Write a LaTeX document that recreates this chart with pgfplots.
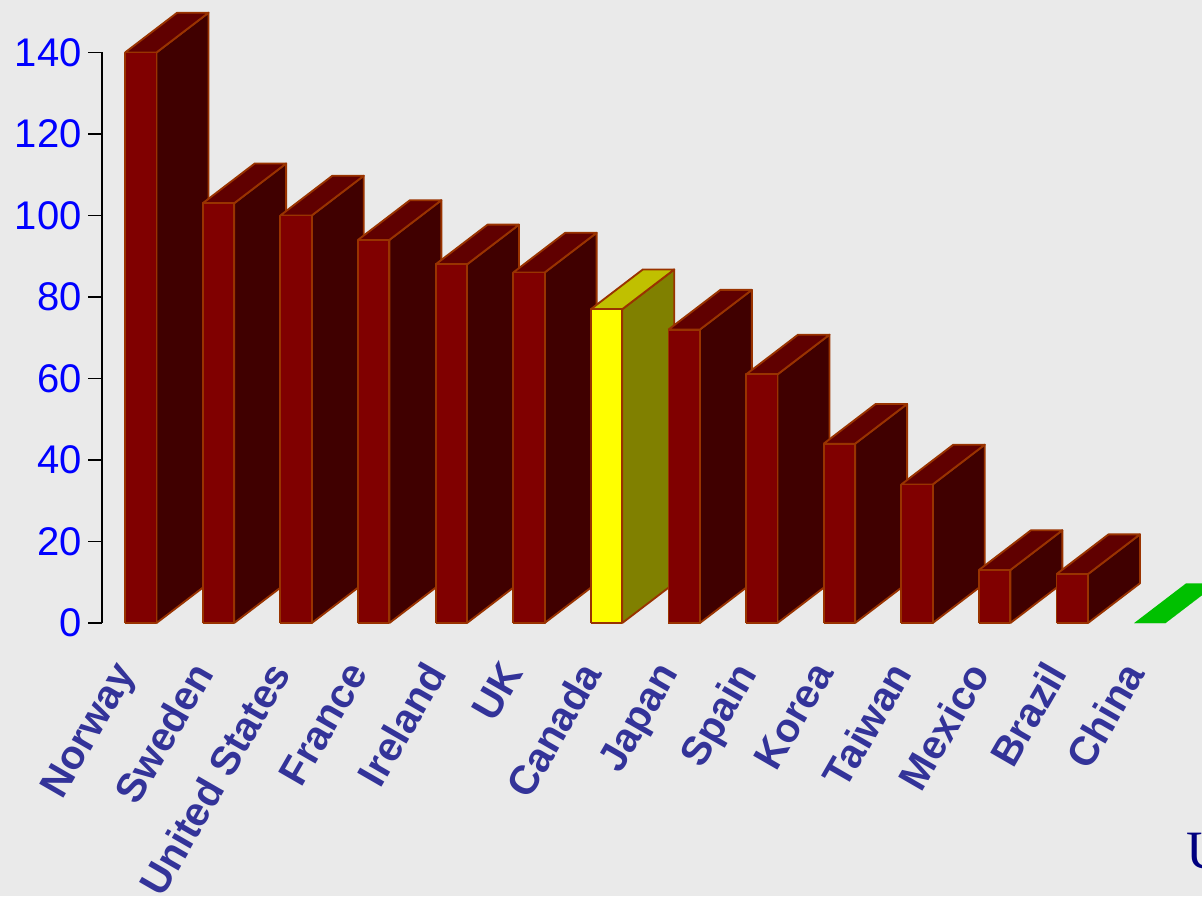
\documentclass[border=0pt]{standalone}
\usepackage{pgfplots}
\usepackage{fontspec}
\pgfplotsset{compat=1.18}
\setmainfont{Liberation Sans}
\newfontfamily\serifface{Liberation Serif}
\definecolor{panel}{RGB}{234,234,234}
\definecolor{edge}{RGB}{153,51,0}
\definecolor{labelblue}{RGB}{51,51,153}
\definecolor{frontred}{RGB}{128,0,0}
\definecolor{sidered}{RGB}{64,0,0}
\definecolor{topred}{RGB}{96,0,0}
\definecolor{frontyellow}{RGB}{255,255,0}
\definecolor{sideyellow}{RGB}{128,128,0}
\definecolor{topyellow}{RGB}{192,192,0}
\definecolor{topgreen}{RGB}{0,192,0}
% half bar width, and depth of the box in x and y units
\newcommand{\hw}{0.2025}
\newcommand{\dpx}{0.67}
\newcommand{\dpy}{9.75}
% #1 position, #2 value, #3 front, #4 side, #5 top, #6 outline
\newcommand{\prism}[6]{%
  \pgfmathsetmacro{\xl}{#1-\hw}%
  \pgfmathsetmacro{\xr}{#1+\hw}%
  \pgfmathsetmacro{\xlb}{\xl+\dpx}%
  \pgfmathsetmacro{\xrb}{\xr+\dpx}%
  \pgfmathsetmacro{\yb}{#2+\dpy}%
  \edef\sideface{\noexpand\addplot[fill=#4,draw=#6,line width=1.4pt,line join=round]
    coordinates {(\xr,0) (\xrb,\dpy) (\xrb,\yb) (\xr,#2) (\xr,0)};}\sideface
  \edef\topface{\noexpand\addplot[fill=#5,draw=#6,line width=1.4pt,line join=round]
    coordinates {(\xl,#2) (\xlb,\yb) (\xrb,\yb) (\xr,#2) (\xl,#2)};}\topface
  \edef\frontface{\noexpand\addplot[fill=#3,draw=#6,line width=1.4pt,line join=round]
    coordinates {(\xl,0) (\xl,#2) (\xr,#2) (\xr,0) (\xl,0)};}\frontface
}
\begin{document}
\begin{tikzpicture}
\useasboundingbox (0,0) rectangle (901.5pt,-672pt);
\fill[panel] (0,0) rectangle (901.5pt,-672pt);
\clip (0,0) rectangle (901.5pt,-672pt);
\begin{axis}[
  at={(76.5pt,-467.25pt)}, anchor=south west,
  scale only axis, width=815pt, height=427.9pt,
  xmin=-0.5, xmax=13.5, ymin=0, ymax=140,
  clip=false,
  axis x line=bottom, axis y line=left,
  x axis line style={draw=none},
  y axis line style={-, draw=black, line width=1.3pt},
  xtick={0,...,13},
  xticklabels={Norway,Sweden,United States,France,Ireland,UK,Canada,Japan,Spain,Korea,Taiwan,Mexico,Brazil,China},
  xtick style={draw=none},
  ytick={0,20,...,140},
  ytick style={draw=black, line width=1.3pt},
  tick align=outside,
  major tick length=10.5pt,
  /pgf/number format/assume math mode=true,
  yticklabel style={font=\fontsize{30}{36}\selectfont, text=blue, inner sep=0pt, xshift=-4.5pt},
  xticklabel style={font=\fontsize{30.5}{36}\selectfont\bfseries, text=labelblue,
    rotate=60, anchor=north east, inner sep=0pt, yshift=11pt, xshift=-25pt},
]
\prism{0}{140}{frontred}{sidered}{topred}{edge}
\prism{1}{103}{frontred}{sidered}{topred}{edge}
\prism{2}{100}{frontred}{sidered}{topred}{edge}
\prism{3}{94}{frontred}{sidered}{topred}{edge}
\prism{4}{88}{frontred}{sidered}{topred}{edge}
\prism{5}{86}{frontred}{sidered}{topred}{edge}
\prism{6}{77}{frontyellow}{sideyellow}{topyellow}{edge}
\prism{7}{72}{frontred}{sidered}{topred}{edge}
\prism{8}{61}{frontred}{sidered}{topred}{edge}
\prism{9}{44}{frontred}{sidered}{topred}{edge}
\prism{10}{34}{frontred}{sidered}{topred}{edge}
\prism{11}{13}{frontred}{sidered}{topred}{edge}
\prism{12}{12}{frontred}{sidered}{topred}{edge}
\prism{13}{0}{topgreen}{topgreen}{topgreen}{none}
\end{axis}
\node[anchor=base west, inner sep=0pt, text={rgb,255:red,0;green,0;blue,128},
  font=\fontsize{40.5}{48}\serifface] at (890pt,-651pt) {U};
\end{tikzpicture}
\end{document}
